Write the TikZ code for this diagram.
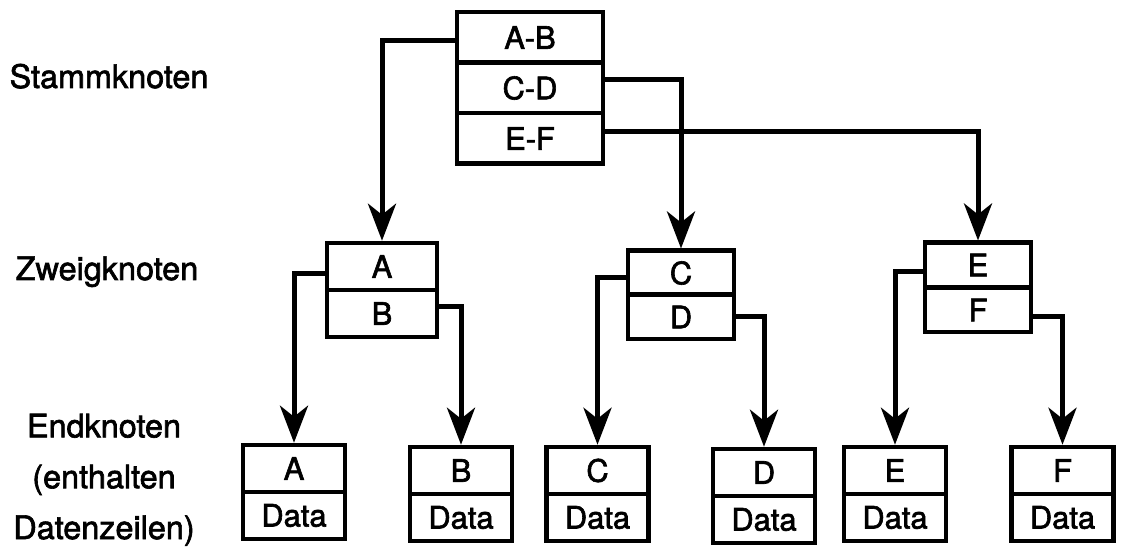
\documentclass[tikz,border=0pt]{standalone}
\usepackage{fontspec}
\setmainfont{TeX Gyre Heros}[FakeBold=2]
\usetikzlibrary{arrows.meta,calc}
\begin{document}
\begin{tikzpicture}[x=1bp,y=-1bp,
  cell/.style={draw, line width=4.5bp, inner sep=0pt, font=\fontsize{31}{31}\selectfont},
  root/.style={cell, minimum width=146bp, minimum height=50.5bp},
  brA/.style={cell, minimum width=110bp, minimum height=47bp},
  brC/.style={cell, minimum width=106bp, minimum height=44.5bp},
  leaf/.style={cell, minimum width=102bp, minimum height=47bp},
  conn/.style={line width=5bp, -{Stealth[length=37bp,width=28bp,inset=11bp]}},
  lbl/.style={font=\fontsize{32.5}{51}\selectfont, inner sep=0pt, align=center}]
\useasboundingbox (0,0) rectangle (1122,549);
% labels
\node[lbl, anchor=base] (l1) at (109,88) {Stammknoten};
\node[lbl, anchor=base] (l2) at (107,280) {Zweigknoten};
\node[lbl, anchor=base] (l3) at (104,539) {Endknoten\\(enthalten\\Datenzeilen)};
% root
\node[root] (r1) at (530,37.5) {A-B};
\node[root] (r2) at (530,88) {C-D};
\node[root] (r3) at (530,138.5) {E-F};
% branches
\node[brA] (bA) at (382,266.5) {A};
\node[brA] (bB) at (382,313.5) {B};
\node[brC] (bC) at (681,273) {C};
\node[brC] (bD) at (681,317) {D};
\node[brC] (bE) at (978,265) {E};
\node[brC] (bF) at (978,310) {F};
% leaves
\node[leaf] (lA) at (294,468.5) {A};
\node[leaf] (lAd) at (294,515.5) {Data};
\node[leaf] (lB) at (461,470.5) {B};
\node[leaf] (lBd) at (461,517.5) {Data};
\node[leaf] (lC) at (597.5,470.5) {C};
\node[leaf] (lCd) at (597.5,517.5) {Data};
\node[leaf] (lD) at (764,472.5) {D};
\node[leaf] (lDd) at (764,519.5) {Data};
\node[leaf] (lE) at (895,470.5) {E};
\node[leaf] (lEd) at (895,517.5) {Data};
\node[leaf] (lF) at (1062.5,470.5) {F};
\node[leaf] (lFd) at (1062.5,517.5) {Data};
% connectors
\draw[conn] ($(r1.north west)!0.55!(r1.south west)$) -| (bA.north);
\draw[conn] ($(r2.north east)!0.34!(r2.south east)$) -| (bC.north);
\draw[conn] ($(r3.north east)!0.38!(r3.south east)$) -| (bE.north);
\draw[conn] ($(bA.north west)!0.64!(bA.south west)$) -| (lA.north);
\draw[conn] ($(bB.north east)!0.36!(bB.south east)$) -| (lB.north);
\draw[conn] ($(bC.north west)!0.59!(bC.south west)$) -| (lC.north);
\draw[conn] ($(bD.north east)!0.5!(bD.south east)$) -| (lD.north);
\draw[conn] ($(bE.north west)!0.64!(bE.south west)$) -| (lE.north);
\draw[conn] ($(bF.north east)!0.63!(bF.south east)$) -| (lF.north);
\end{tikzpicture}
\end{document}
